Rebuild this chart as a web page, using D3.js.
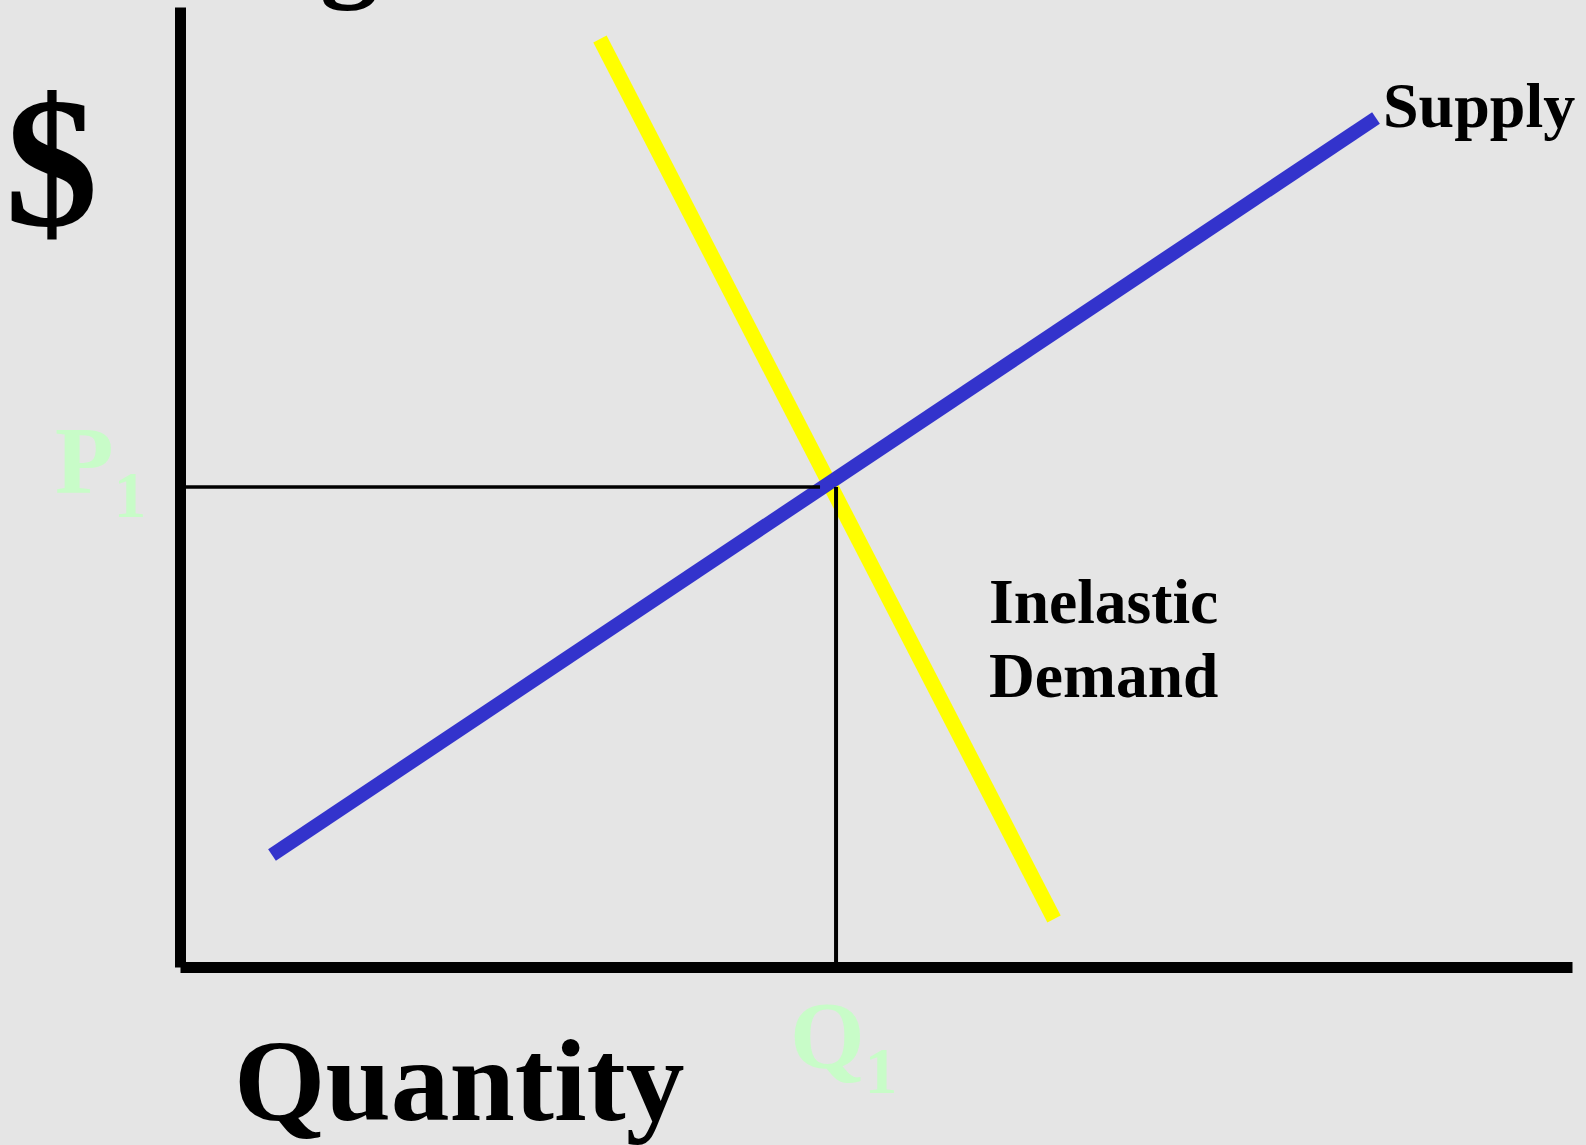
<!DOCTYPE html>
<html lang="en">

<head>
    <meta charset="UTF-8">
    <script src="https://cdnjs.cloudflare.com/ajax/libs/d3/7.9.0/d3.min.js"></script>
    <title>Inelastic demand</title>
    <style>
        body {
            margin: 0;
            background-color: #e5e5e5;
            overflow: hidden;
        }

        svg {
            display: block;
        }

        text {
            font-family: "Liberation Serif", "Times New Roman", serif;
            font-weight: bold;
        }
    </style>
</head>

<body>
    <div id="content"></div>
    <script>
        // chart values (quantity, price), both on a 0-100 scale
        const supplyPoints = [[6.61, 11.67], [85.92, 88.44]];
        const demandPoints = [[30.17, 96.67], [62.79, 5.0]];
        const equilibrium = { q: 47.13, p: 50 };
        const priceLineEnd = 45.98;
        const curveLabels = ["Supply", "Inelastic", "Demand"];
        const axisLabels = { y: "$", x: "Quantity" };
        const markLabels = { p: "P", q: "Q", sub: "1" };

        const width = 1586;
        const height = 1145;
        const margin = { top: 7, right: 14, bottom: 178, left: 180 };

        const svg = d3.select("div#content")
            .append("svg")
            .attr("width", width)
            .attr("height", height);

        const x = d3.scaleLinear()
            .domain([0, 100])
            .range([margin.left, width - margin.right]);

        const y = d3.scaleLinear()
            .domain([0, 100])
            .range([height - margin.bottom, margin.top]);

        const line = d3.line()
            .x(d => x(d[0]))
            .y(d => y(d[1]));

        // demand below supply
        svg.append("path")
            .datum(demandPoints)
            .attr("d", line)
            .attr("fill", "none")
            .attr("stroke", "#ffff00")
            .attr("stroke-width", 15);

        svg.append("path")
            .datum(supplyPoints)
            .attr("d", line)
            .attr("fill", "none")
            .attr("stroke", "#3333cc")
            .attr("stroke-width", 14);

        // P1 / Q1 guide lines
        svg.append("path")
            .datum([[0, equilibrium.p], [priceLineEnd, equilibrium.p]])
            .attr("d", line)
            .attr("stroke", "black")
            .attr("stroke-width", 3.5);

        svg.append("path")
            .datum([[equilibrium.q, equilibrium.p], [equilibrium.q, 0]])
            .attr("d", line)
            .attr("stroke", "black")
            .attr("stroke-width", 4);

        // axes: plain thick lines, no ticks
        const xAxis = d3.axisBottom(x).tickValues([]).tickSizeOuter(0);
        const yAxis = d3.axisLeft(y).tickValues([]).tickSizeOuter(0);

        svg.append("g")
            .attr("transform", `translate(0,${y(0)})`)
            .call(xAxis)
            .call(g => g.select(".domain").attr("stroke-width", 11));

        svg.append("g")
            .attr("transform", `translate(${x(0)},0)`)
            .call(yAxis)
            .call(g => g.select(".domain").attr("stroke-width", 11));

        // cut-off title descender
        svg.append("text")
            .attr("x", 320)
            .attr("y", -15)
            .attr("font-size", 116)
            .text("g");

        svg.append("text")
            .attr("x", 5)
            .attr("y", 225)
            .attr("font-size", 186)
            .text(axisLabels.y);

        svg.append("text")
            .attr("x", 234)
            .attr("y", 1120)
            .attr("font-size", 117.5)
            .text(axisLabels.x);

        svg.append("text")
            .attr("x", 1383)
            .attr("y", 127)
            .attr("font-size", 64)
            .text(curveLabels[0]);

        svg.append("text")
            .attr("x", 989)
            .attr("y", 623)
            .attr("font-size", 63.5)
            .text(curveLabels[1]);

        svg.append("text")
            .attr("x", 989)
            .attr("y", 697)
            .attr("font-size", 63.5)
            .text(curveLabels[2]);

        const p1 = svg.append("text")
            .attr("x", 55)
            .attr("y", y(equilibrium.p) + 6)
            .attr("font-size", 96)
            .attr("fill", "#c8fcc8");
        p1.append("tspan").text(markLabels.p);
        p1.append("tspan").attr("dy", 24).attr("font-size", 65).text(markLabels.sub);

        const q1 = svg.append("text")
            .attr("x", 790)
            .attr("y", 1068)
            .attr("font-size", 96)
            .attr("fill", "#c8fcc8");
        q1.append("tspan").text(markLabels.q);
        q1.append("tspan").attr("dy", 25).attr("font-size", 65).text(markLabels.sub);
    </script>
</body>

</html>
